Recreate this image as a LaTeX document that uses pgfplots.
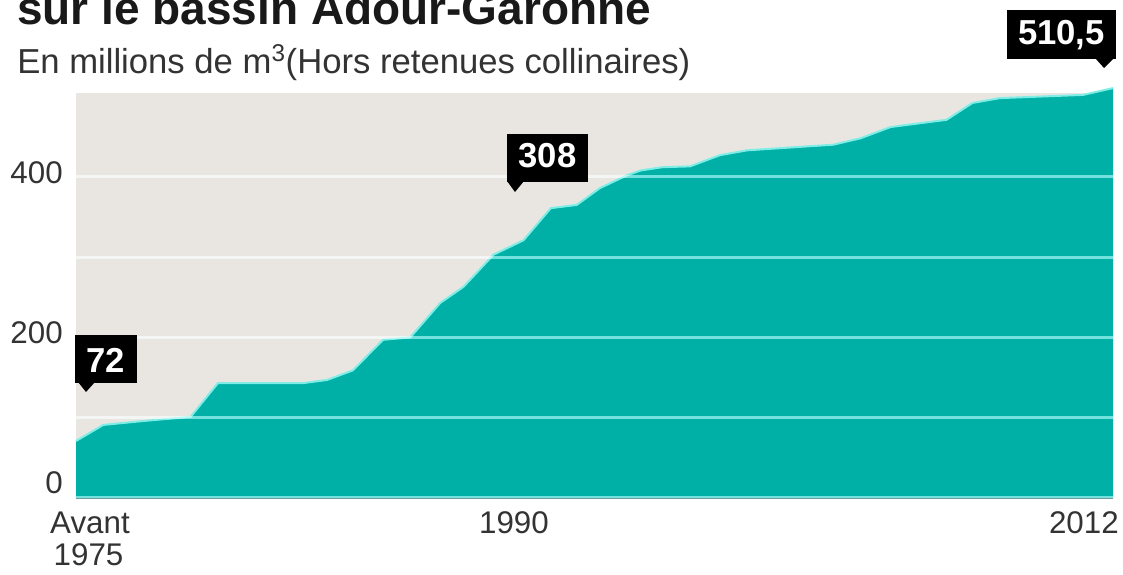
\documentclass[border=0pt]{standalone}
\usepackage{pgfplots}
\pgfplotsset{compat=1.18}
\usepackage{pgfplotstable}
\usepackage{fontspec}
\setmainfont{Liberation Sans}
\definecolor{areateal}{HTML}{00AFA5}
\definecolor{bgbeige}{HTML}{E9E6E1}
\definecolor{edgecyan}{HTML}{7DEDE6}
\definecolor{gridscreen}{rgb}{0.45,0.62,0.62}
\definecolor{labelgray}{HTML}{333333}

\pgfplotstableread{
year value
1974.0 71
1975.0 91
1976.5 96
1978.2 101
1979.2 143
1982.3 143
1983.2 147
1984.15 159
1985.25 197
1986.25 200
1987.35 243
1988.2 263
1989.3 303
1990.4 321
1991.4 361
1992.35 365
1993.2 386
1994.2 402
1994.7 408
1995.5 412
1996.5 413
1997.6 427
1998.6 433
2001.75 440
2002.75 448
2003.85 462
2005.9 471
2006.85 492
2007.85 498
2010.9 502
2012.0 510.5
}\datatable

\newcommand{\tickfont}{\fontsize{23.5}{24}\selectfont}

\begin{document}
\begin{tikzpicture}
\useasboundingbox (0,0) rectangle (842.25pt,430.5pt);
\clip (0,0) rectangle (842.25pt,430.5pt);
\node[anchor=base west, inner sep=0pt, font=\fontsize{34.5}{36}\selectfont\bfseries, text=black!90] at (12.75pt,411.75pt) {sur le bassin Adour-Garonne};
\node[anchor=base west, inner sep=0pt, font=\fontsize{26}{27}\selectfont, text=labelgray] at (12.75pt,375pt) {En millions de m\textsuperscript{3}(Hors retenues collinaires)};
\begin{axis}[
  at={(57pt,57pt)}, anchor=south west,
  scale only axis, width=777.75pt, height=303.75pt,
  xmin=1974, xmax=2012, ymin=0, ymax=504.4,
  clip=false,
  axis background/.style={fill=bgbeige},
  axis line style={draw=none},
  tick style={draw=none},
  xtick=\empty,
  ytick={200,400}, yticklabels={200,400},
  extra y ticks={0}, extra y tick labels={0},
  extra y tick style={yticklabel style={yshift=7.85pt}},
  yticklabel style={font=\tickfont, text=labelgray, anchor=east, inner sep=0pt, xshift=-9.75pt, yshift=3.4pt},
]
\addplot[fill=areateal, draw=none] table[x=year, y=value] {\datatable} \closedcycle;
\addplot[draw=edgecyan, line width=1.5pt] table[x=year, y=value] {\datatable};
\begin{scope}[blend mode=screen]
\draw[gridscreen, line width=2.25pt] (axis cs:1974,0) -- (axis cs:2012,0);
\draw[gridscreen, line width=2.25pt] (axis cs:1974,100) -- (axis cs:2012,100);
\draw[gridscreen, line width=2.25pt] (axis cs:1974,200) -- (axis cs:2012,200);
\draw[gridscreen, line width=2.25pt] (axis cs:1974,300) -- (axis cs:2012,300);
\draw[gridscreen, line width=2.25pt] (axis cs:1974,400) -- (axis cs:2012,400);
\end{scope}
\node[anchor=base, font=\tickfont, text=labelgray, inner sep=0pt, xshift=10.5pt, yshift=-26.25pt] at (axis cs:1974,0) {Avant};
\node[anchor=base, font=\tickfont, text=labelgray, inner sep=0pt, xshift=9.4pt, yshift=-50.25pt] at (axis cs:1974,0) {1975};
\node[anchor=base, font=\tickfont, text=labelgray, inner sep=0pt, xshift=1pt, yshift=-26.25pt] at (axis cs:1990,0) {1990};
\node[anchor=base east, font=\tickfont, text=labelgray, inner sep=0pt, xshift=4.5pt, yshift=-26.25pt] at (axis cs:2012,0) {2012};
\end{axis}
\begin{scope}[x=0.75pt, y=-0.75pt, yshift=430.5pt]
\fill[black] (75,335) rectangle (137,383);
\fill[black] (78,382) -- (95,382) -- (86,392) -- cycle;
\node[anchor=base, inner sep=0pt, text=white, font=\fontsize{26}{26}\selectfont\bfseries] at (106,373) {72};
\fill[black] (507,134) rectangle (588,182);
\fill[black] (507,181) -- (524,181) -- (515,192) -- cycle;
\node[anchor=base, inner sep=0pt, text=white, font=\fontsize{26}{26}\selectfont\bfseries] at (547.5,168) {308};
\fill[black] (1007,10) rectangle (1116,59);
\fill[black] (1095,58) -- (1114,58) -- (1104,68) -- cycle;
\node[anchor=base, inner sep=0pt, text=white, font=\fontsize{26}{26}\selectfont\bfseries] at (1061.5,45) {510,5};
\end{scope}
\end{tikzpicture}
\end{document}
